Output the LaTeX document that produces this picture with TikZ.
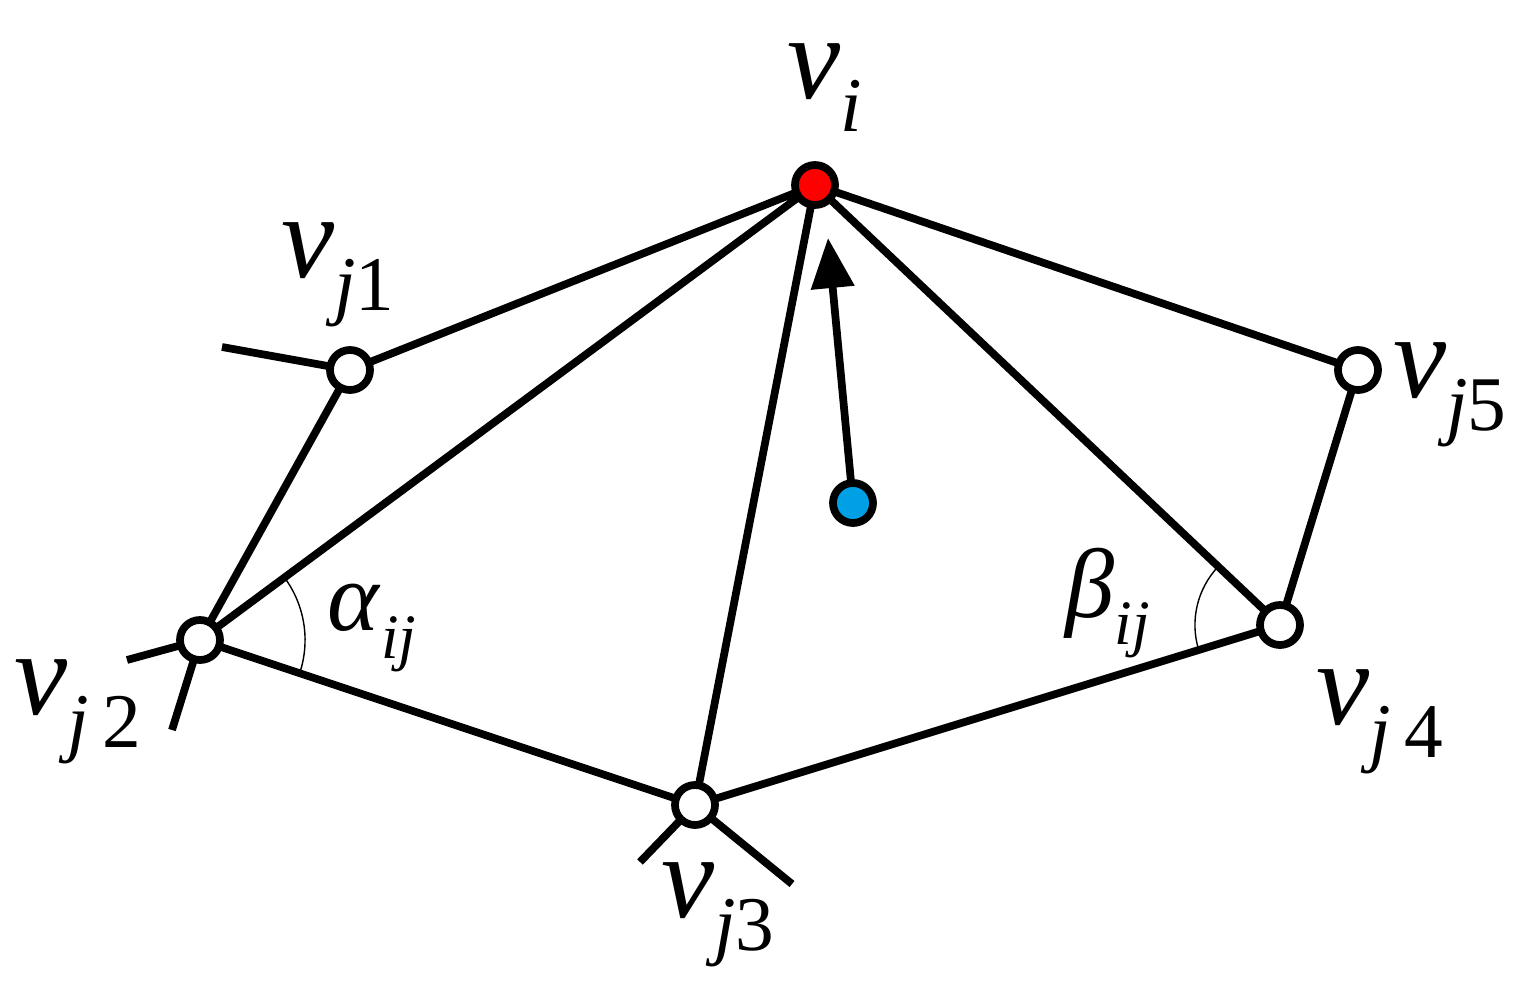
\documentclass[tikz,border=0pt]{standalone}
\usepackage{fontspec}
\setmainfont{Liberation Serif}
\usetikzlibrary{arrows.meta}
\newcommand{\vlab}[1]{\textit{v}\raisebox{-0.6ex}{\fontsize{22}{22}\selectfont #1}}
\begin{document}
\begin{tikzpicture}[x=0.01cm,y=-0.01cm,
  e/.style={line width=2.2pt},
  v/.style={circle,draw,line width=2.2pt,fill=white,minimum size=0.4cm,inner sep=0pt},
  lab/.style={font=\fontsize{34}{34}\selectfont,inner sep=0pt}]
\useasboundingbox (0,0) rectangle (1535,1003);
\coordinate (s1) at (222,347);
\coordinate (s2a) at (127,660);
\coordinate (s2b) at (172,730);
\coordinate (s3a) at (640,862);
\coordinate (s3b) at (792,884);
\coordinate (tip) at (828,238);
\coordinate (vi) at (815,185);
\coordinate (j1) at (350,370);
\coordinate (j2) at (200,640);
\coordinate (j3) at (695,805);
\coordinate (j4) at (1280,625);
\coordinate (j5) at (1358,370);
\coordinate (b) at (853,503);
\draw[e] (j1)--(s1) (j2)--(s2a) (j2)--(s2b) (j3)--(s3a) (j3)--(s3b);
\draw[e] (vi)--(j1) (vi)--(j2) (vi)--(j3) (vi)--(j4) (vi)--(j5)
  (j1)--(j2)--(j3)--(j4)--(j5);
\draw[thin] ([shift={(-18.4:1.05cm)}]j2) arc[start angle=-18.4,end angle=36.5,radius=1.05cm];
\draw[thin] ([shift={(136.6:0.85cm)}]j4) arc[start angle=136.6,end angle=197.1,radius=0.85cm];
\draw[e,-{Triangle[length=0.5cm,width=0.42cm]}] (b)--(tip);
\node[v,fill=red] (nvi) at (vi) {};
\node[v] (n1) at (j1) {};
\node[v] (n2) at (j2) {};
\node[v] (n3) at (j3) {};
\node[v] (n4) at (j4) {};
\node[v] (n5) at (j5) {};
\node[v,fill={rgb,255:red,0;green,160;blue,230}] (nb) at (b) {};
\node[lab] (li) at (825,88) {\vlab{\textit{i}}};
\node[lab] (l1) at (338,275) {\vlab{\textit{j}1}};
\node[lab] (l5) at (1450,395) {\vlab{\textit{j}5}};
\node[lab] (l2) at (78,712) {\vlab{\textit{j}\,2}};
\node[lab] (l4) at (1380,722) {\vlab{\textit{j}\,4}};
\node[lab] (l3) at (718,915) {\vlab{\textit{j}3}};
\node[lab,font=\fontsize{28}{28}\selectfont] (la) at (372,628) {\textit{α}\raisebox{-0.6ex}{\fontsize{18}{18}\selectfont\textit{ij}}};
\node[lab,font=\fontsize{28}{28}\selectfont] (lb) at (1108,603) {\textit{β}\raisebox{-0.6ex}{\fontsize{18}{18}\selectfont\textit{ij}}};
\end{tikzpicture}
\end{document}
